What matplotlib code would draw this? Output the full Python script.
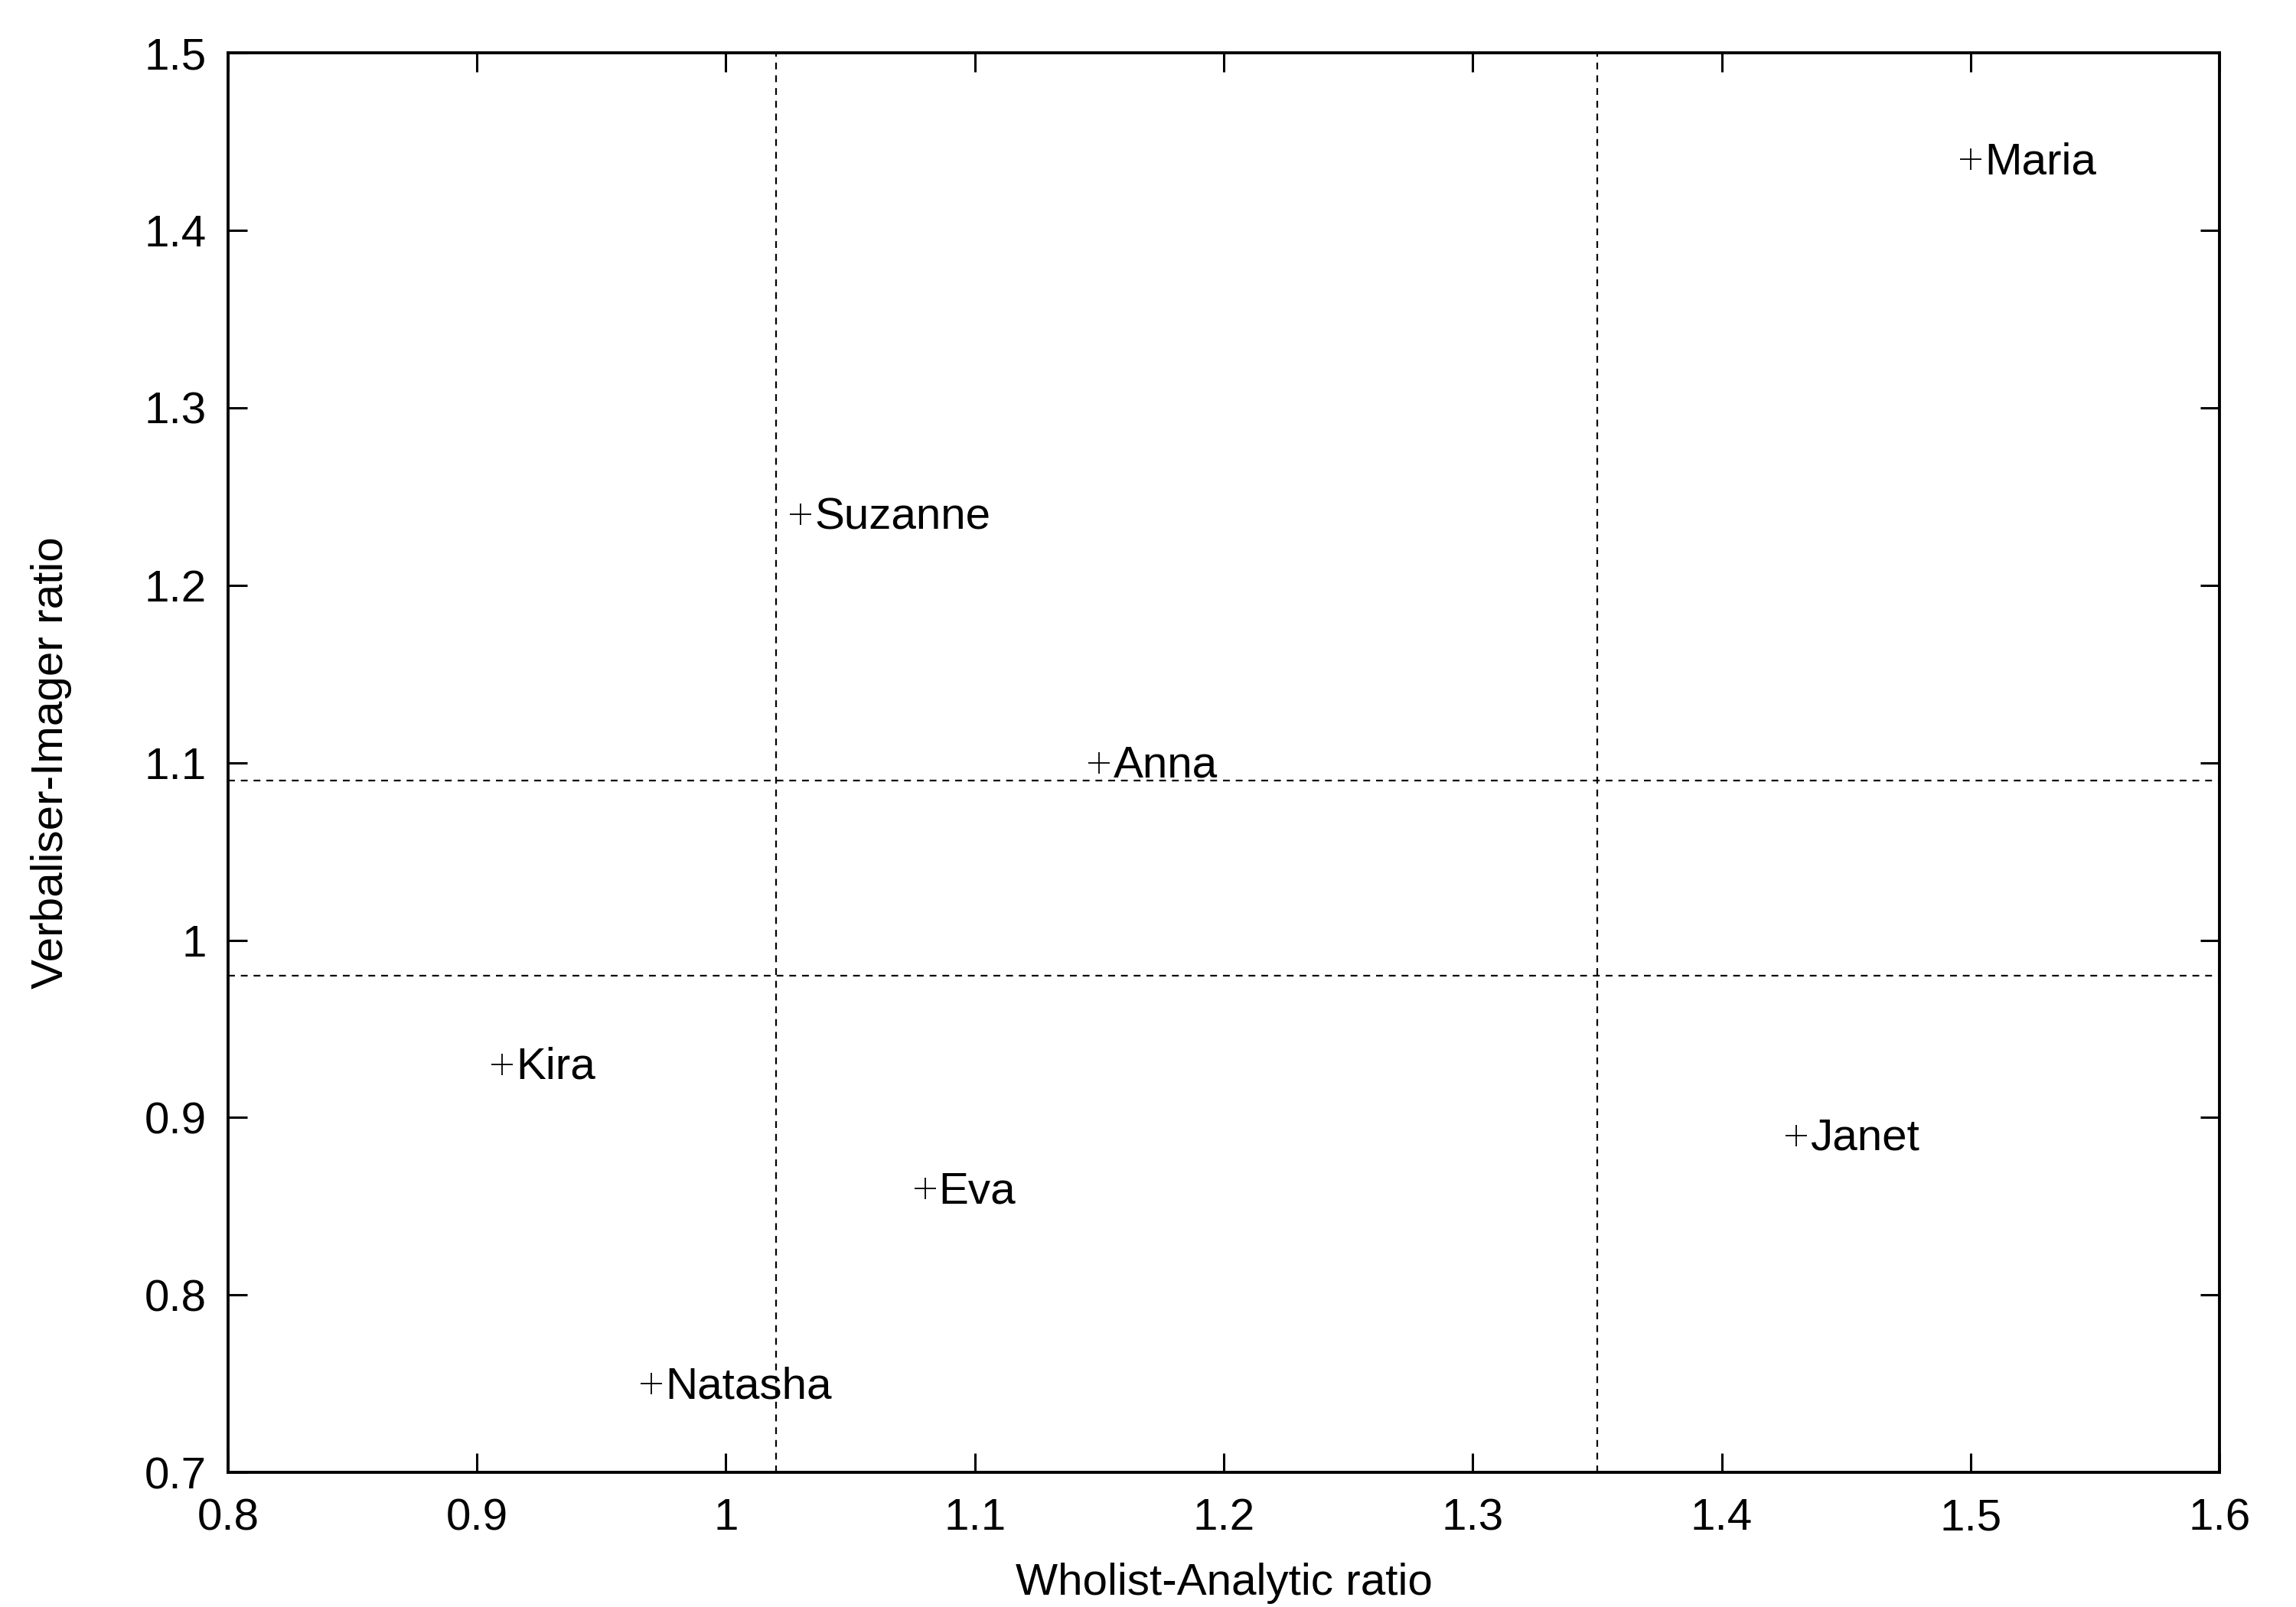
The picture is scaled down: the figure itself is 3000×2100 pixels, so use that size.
import matplotlib
matplotlib.use('Agg')
import matplotlib.pyplot as plt

names = ['Maria', 'Suzanne', 'Anna', 'Kira', 'Janet', 'Eva', 'Natasha']
wholist = [1.50, 1.03, 1.15, 0.91, 1.43, 1.08, 0.97]
verbal = [1.44, 1.24, 1.10, 0.93, 0.89, 0.86, 0.75]

# cut-off lines between the style groups
wa_cuts = [1.02, 1.35]
vi_cuts = [0.98, 1.09]

xticks = [0.8, 0.9, 1.0, 1.1, 1.2, 1.3, 1.4, 1.5, 1.6]
xticklabels = ['0.8', '0.9', '1', '1.1', '1.2', '1.3', '1.4', '1.5', '1.6']
yticks = [0.7, 0.8, 0.9, 1.0, 1.1, 1.2, 1.3, 1.4, 1.5]
yticklabels = ['0.7', '0.8', '0.9', '1', '1.1', '1.2', '1.3', '1.4', '1.5']

plt.rcParams['font.family'] = ['Liberation Sans', 'DejaVu Sans']
fs = 42

fig = plt.figure(figsize=(30, 21), dpi=100)
ax = fig.add_axes([0.0993, 0.0838, 0.9667 - 0.0993, 0.967 - 0.0838])

for c in wa_cuts:
    ax.axvline(c, color='black', lw=1.6, ls=(0, (4, 3.5)), zorder=1)
for c in vi_cuts:
    ax.axhline(c, color='black', lw=1.6, ls=(0, (4, 3.5)), zorder=1)

ax.plot(wholist, verbal, ls='none', marker='+', ms=20, mew=1.3, color='black', zorder=3)
for n, x, y in zip(names, wholist, verbal):
    ax.annotate(n, (x, y), xytext=(13, -3), textcoords='offset points',
                ha='left', va='center', fontsize=fs, color='black')

ax.set_xlim(0.8, 1.6)
ax.set_ylim(0.7, 1.5)
ax.set_xticks(xticks)
ax.set_xticklabels(xticklabels)
ax.set_yticks(yticks)
ax.set_yticklabels(yticklabels)
ax.tick_params(direction='in', length=18, width=2.2, labelsize=fs,
               top=True, right=True)
ax.tick_params(axis='x', pad=24)
ax.tick_params(axis='y', pad=20)
for s in ax.spines.values():
    s.set_linewidth(2.8)

ax.set_xlabel('Wholist-Analytic ratio', fontsize=fs, labelpad=22)
ax.set_ylabel('Verbaliser-Imager ratio', fontsize=fs, labelpad=68)

fig.savefig('out.png', dpi=100)
